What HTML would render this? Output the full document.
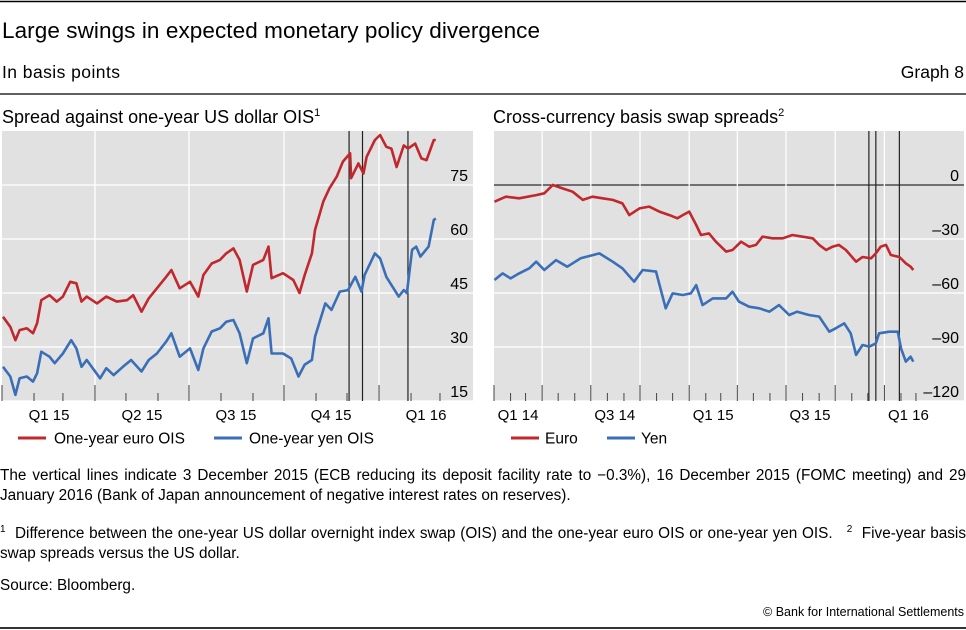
<!DOCTYPE html>
<html><head><meta charset="utf-8"><style>
body{margin:0;width:966px;height:630px;background:#fff;overflow:hidden;font-family:"Liberation Sans",sans-serif;}
svg{position:absolute;left:0;top:0}
.t{font-family:"Liberation Sans",sans-serif;fill:#000}
#notes{position:absolute;left:0;top:466px;width:966px;font-size:15.3px;line-height:20px;text-align:justify;color:#000}
#notes p{margin:0}
</style></head><body>
<svg id="s" width="966" height="630">
<line x1="0" y1="1.5" x2="966" y2="1.5" stroke="#000" stroke-width="1.5"/>
<line x1="0" y1="94" x2="966" y2="94" stroke="#000" stroke-width="1.2"/>
<line x1="0" y1="628" x2="966" y2="628" stroke="#333" stroke-width="2"/>
<text class="t" x="2" y="38" font-size="22.5" textLength="538">Large swings in expected monetary policy divergence</text>
<text class="t" x="2" y="78" font-size="17.5" textLength="118">In basis points</text>
<text class="t" x="964" y="78" font-size="17.5" text-anchor="end">Graph 8</text>
<text class="t" x="2" y="123" font-size="18">Spread against one-year US dollar OIS<tspan dy="-7" font-size="11">1</tspan></text>
<text class="t" x="493" y="123" font-size="18">Cross-currency basis swap spreads<tspan dy="-7" font-size="11">2</tspan></text>
<g id="L"></g><g id="R"></g>
<g>
<line x1="18" y1="438" x2="46" y2="438" stroke="#c0282d" stroke-width="3"/>
<text class="t" x="54" y="443.5" font-size="15.5">One-year euro OIS</text>
<line x1="214" y1="438" x2="242" y2="438" stroke="#3a6fb7" stroke-width="3"/>
<text class="t" x="249" y="443.5" font-size="15.5">One-year yen OIS</text>
</g>
<g>
<line x1="511" y1="438" x2="539" y2="438" stroke="#c0282d" stroke-width="3"/>
<text class="t" x="545" y="443.5" font-size="15.5">Euro</text>
<line x1="607" y1="438" x2="635" y2="438" stroke="#3a6fb7" stroke-width="3"/>
<text class="t" x="641" y="443.5" font-size="15.5">Yen</text>
</g>
<text class="t" x="964" y="616" font-size="12.5" text-anchor="end">© Bank for International Settlements</text>
</svg>
<div id="notes">
<p style="margin-bottom:14px">The vertical lines indicate 3 December 2015 (ECB reducing its deposit facility rate to −0.3%), 16 December 2015 (FOMC meeting) and 29 January 2016 (Bank of Japan announcement of negative interest rates on reserves).</p>
<p style="margin-bottom:12px"><sup style="font-size:10px">1</sup>&nbsp; Difference between the one-year US dollar overnight index swap (OIS) and the one-year euro OIS or one-year yen OIS. &nbsp;&nbsp;<sup style="font-size:10px">2</sup>&nbsp; Five-year basis swap spreads versus the US dollar.</p>
<p>Source: Bloomberg.</p>
</div>
<script>
// Left chart: days since 1 Jan 2015
const leftEuroDays=[1,8,13,17,24,30,34,38,46,53,59,66,72,77,82,92,101,111,121,127,135,142,150,159,164,172,182,190,195,203,211,217,224,230,237,243,253,258,261,272,282,288,293,300,303,311,317,324,330,337,338,345,350,353,361,366,372,377,382,389,393,400,406,411,418,420];
const leftEuroVals=[38.4,35.6,31.9,34.7,35.2,33.8,36.6,43,44.4,42.6,44,48.1,47.7,42.6,44,42.1,44,42.6,43,44.4,39.8,43.5,46.3,49.5,51.4,46.3,48.1,44,50,53.2,54.2,56,57.4,54.2,45.4,52.8,54.2,57.9,49.1,50.5,48.6,45,50,56,62.5,70.4,74.1,77.3,81.5,83.8,76.9,81,78.2,82.8,87.5,88.9,85.6,85.1,80,86,85.1,86.5,82.4,81.9,87.5,87.5];
const leftYenDays=[1,8,13,17,24,30,34,38,46,51,59,67,72,77,82,95,101,108,117,125,135,142,150,159,164,172,182,190,195,203,211,217,224,230,237,243,253,258,261,272,280,287,293,300,303,313,319,327,335,342,348,351,361,366,372,384,389,392,397,401,405,413,418,420];
const leftYenVals=[24.5,21.8,16.7,21.3,21.8,20.4,22.7,28.7,27.3,25.5,28.2,31.9,29.6,24.5,26.4,21.3,24.1,22.2,24.5,26.4,23.2,26.4,28.2,31.5,33.8,27.3,29.6,23.6,29.6,34.3,35.2,37,37.5,33.8,25.5,32.4,33.8,38,28.2,28.2,26.8,21.8,25.1,26.4,32.8,42.1,40.3,45.4,45.8,49.5,45.4,50,56,54.6,49.5,44,45.8,45,57,57.9,55.1,57.9,65.3,65.7];
const leftTicks=[15,30,45,60,75];
const leftQuarterLabels=["Q1 15","Q2 15","Q3 15","Q4 15","Q1 16"];
const leftEventDays=[336,349,393];
// Right chart: days since 1 Jan 2014
const rightEuroDays=[1,22,47,79,94,110,128,147,166,184,203,222,240,253,272,290,309,328,343,353,365,378,387,402,415,434,446,462,477,490,502,521,540,558,577,596,608,621,633,645,658,677,689,705,714,723,733,742,758,770,779,784];
const rightEuroVals=[-9.3,-6.5,-7.4,-5.6,-4.6,0,-1.9,-3.7,-8.3,-6.5,-7.4,-8.3,-10.2,-16.7,-13,-12,-14.8,-16.7,-18.5,-16.7,-14.8,-22.2,-27.8,-26.9,-31.5,-37,-36.1,-31.5,-34.3,-33.3,-28.7,-29.6,-29.6,-27.8,-28.7,-29.6,-33.3,-36.1,-34.3,-33.3,-36.1,-42.6,-40,-40.7,-38,-34.3,-33.3,-38.9,-40,-43.5,-45.4,-47.2];
const rightYenDays=[1,16,31,47,66,79,94,116,137,162,197,222,240,262,278,303,321,334,353,368,378,390,409,434,446,458,477,496,515,533,552,567,589,608,627,639,655,667,677,689,702,714,720,739,755,761,770,779,784];
const rightYenVals=[-52.8,-49.1,-51.9,-49.1,-46.3,-42.6,-47.2,-41.7,-45.4,-40.7,-38,-42.6,-46.3,-53.7,-47.2,-48.1,-68.5,-60.2,-61.1,-60.2,-55.6,-66.7,-63,-63,-59.3,-64.8,-67.6,-68.5,-70.4,-66.7,-72.2,-70.4,-72.2,-73.1,-81.5,-79.6,-76.9,-82.4,-94.4,-88.9,-89.8,-88,-82.4,-81.5,-81.5,-90.7,-98.1,-95.4,-98.1];
const rightTicks=[-120,-90,-60,-30,0];
const rightTickLabels=["–120","–90","–60","–30","0"];
const rightQuarterLabels=["Q1 14","Q3 14","Q1 15","Q3 15","Q1 16"];
const rightEventDays=[701,714,758];

const NS="http://www.w3.org/2000/svg";
function mk(p,tag,a){const e=document.createElementNS(NS,tag);for(const k in a)e.setAttribute(k,a[k]);p.appendChild(e);return e;}
const monthStarts=[0,31,59,90,120,151,181,212,243,273,304,334];

function drawPanel(g,o){
  const x=d=>o.x0+d*o.pxDay, y=v=>o.yBase-(v-o.vBase)*o.pxVal;
  const bg=mk(g,'rect',{x:o.x0,y:131,width:o.x1-o.x0,height:270,fill:'#e1e1e1'});
  
  
  o.ticks.forEach((t,i)=>{
    const l=mk(g,'line',{x1:o.x0,x2:o.x1,y1:y(t),y2:y(t),stroke:(t===0?'#000':'#fff'),'stroke-width':(t===0?1:1.3)});
    
    
    const tx=mk(g,'text',{x:o.x1-5,y:y(t)-4,'font-size':16,'text-anchor':'end',class:'t'});tx.textContent=o.labels[i];
    
    
  });
  let qi=0;
  for(let yr=0;yr<o.years;yr++){for(let m=0;m<12;m++){
    const d=yr*365+monthStarts[m]; if(d>o.maxDay)continue;
    const X=x(d); const isQ=m%3===0;
    if(isQ&&d>0){const v=mk(g,'line',{x1:X,x2:X,y1:131,y2:401,stroke:'#fff','stroke-width':1.3});
      
      }
    const tk=mk(g,'line',{x1:X,x2:X,y1:401,y2:isQ?385:393,stroke:'#444','stroke-width':1});
    
    
    if(m%o.labelEvery===0&&qi<o.qlabels.length){const tx=mk(g,'text',{x:X+o.labelOffset,y:420,'font-size':15,'text-anchor':'middle',class:'t'});tx.textContent=o.qlabels[qi++];
      
      }
  }}
  o.events.forEach(d=>{const l=mk(g,'line',{x1:x(d),x2:x(d),y1:131,y2:401,stroke:'#222','stroke-width':1.2});
    
    });
  o.series.forEach(s=>{
    const p=mk(g,'polyline',{points:s.d.map((d,i)=>x(d).toFixed(1)+','+y(s.v[i]).toFixed(1)).join(' '),fill:'none',stroke:s.c,'stroke-width':2.6,'stroke-linejoin':'round'});
    
    
  });
}
drawPanel(document.getElementById('L'),{name:'left',x0:2,x1:473,pxDay:94/91,yBase:401,vBase:15,pxVal:54/15,ticks:leftTicks,labels:leftTicks.map(String),years:2,maxDay:425,labelEvery:3,labelOffset:47,qlabels:leftQuarterLabels,events:leftEventDays,
 series:[{d:leftEuroDays,v:leftEuroVals,c:'#c0282d',n:'euro-ois-line'},{d:leftYenDays,v:leftYenVals,c:'#3a6fb7',n:'yen-ois-line'}]});
drawPanel(document.getElementById('R'),{name:'right',x0:494,x1:964,pxDay:48.8/91.25,yBase:185,vBase:0,pxVal:54/30,ticks:rightTicks,labels:rightTickLabels,years:3,maxDay:790,labelEvery:6,labelOffset:24,qlabels:rightQuarterLabels,events:rightEventDays,
 series:[{d:rightEuroDays,v:rightEuroVals,c:'#c0282d',n:'euro-basis-line'},{d:rightYenDays,v:rightYenVals,c:'#3a6fb7',n:'yen-basis-line'}]});
</script>
</body></html>
